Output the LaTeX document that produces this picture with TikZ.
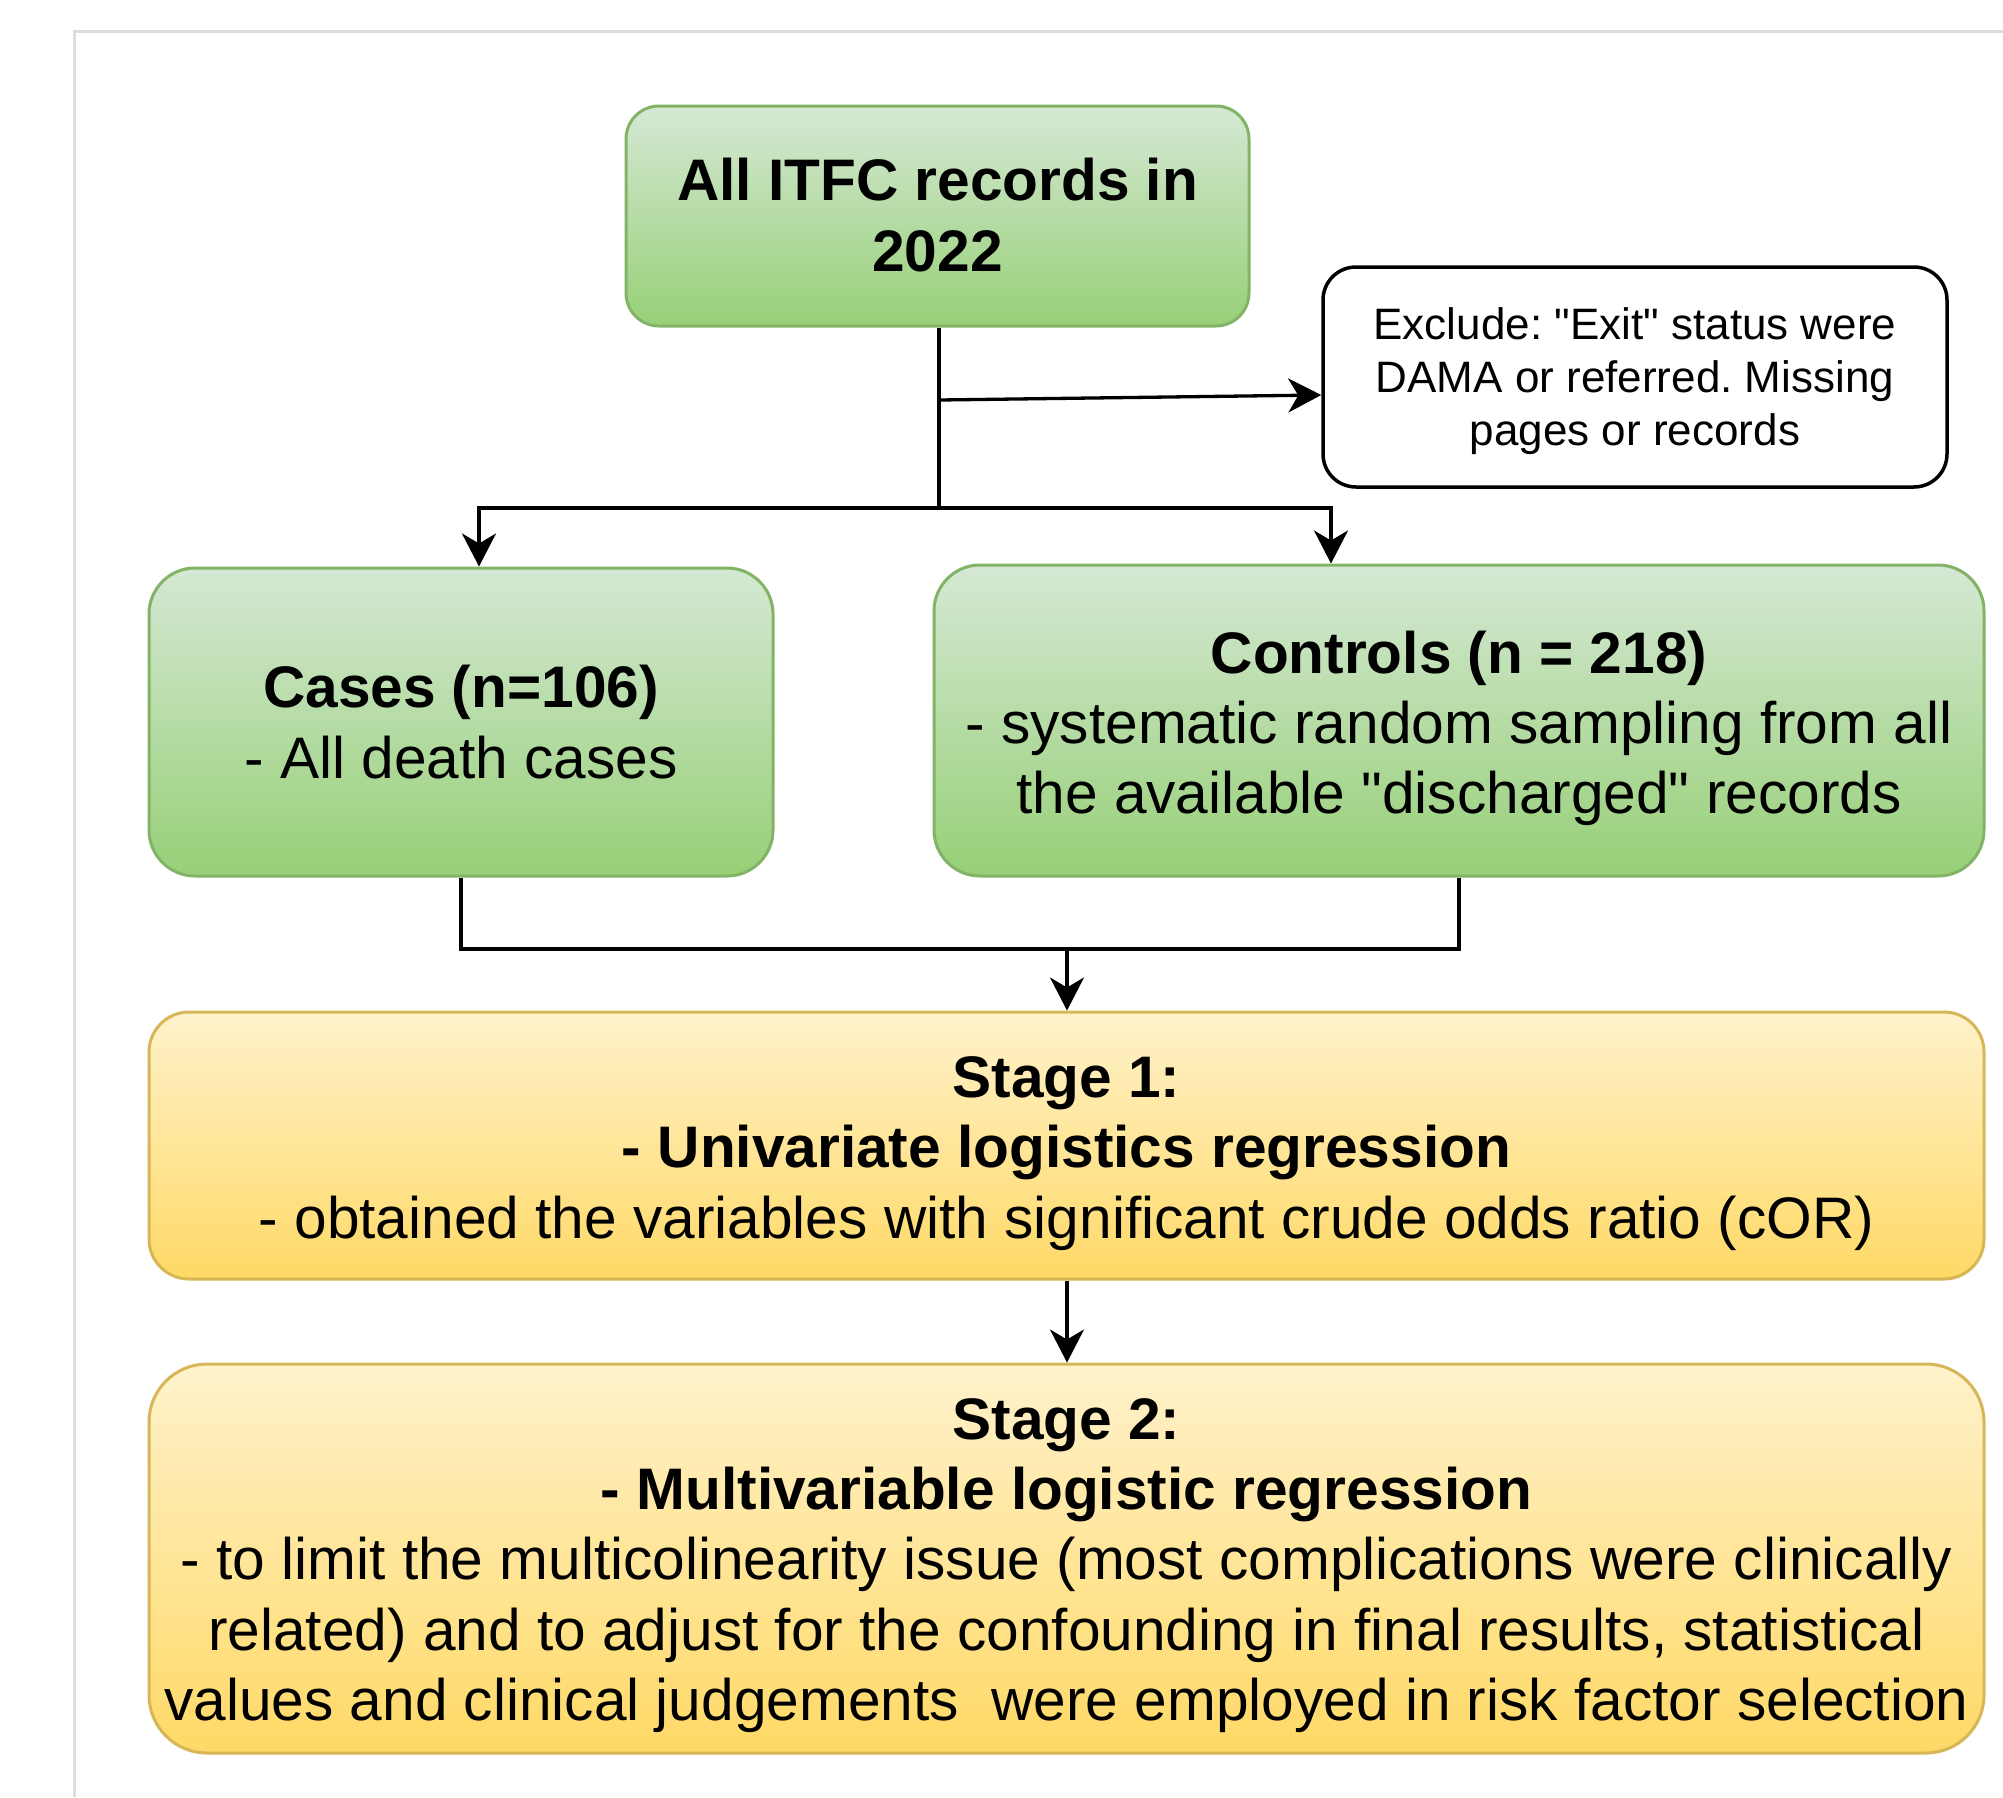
\documentclass[tikz,border=0pt]{standalone}
\usepackage{fontspec}
\setmainfont{Liberation Sans}[Ligatures=TeXOff]
\usetikzlibrary{arrows.meta,calc}
\frenchspacing
\definecolor{gtop}{HTML}{D5E8D4}
\definecolor{gbot}{HTML}{97D077}
\definecolor{gline}{HTML}{82B366}
\definecolor{ytop}{HTML}{FFF2CC}
\definecolor{ybot}{HTML}{FFD966}
\definecolor{yline}{HTML}{D6B656}
\definecolor{framecol}{HTML}{DDDDDD}
\tikzset{
  greenbox/.style={draw=gline, line width=3pt, top color=gtop, bottom color=gbot, inner sep=0pt},
  yellowbox/.style={draw=yline, line width=3pt, top color=ytop, bottom color=ybot, inner sep=0pt},
  whitebox/.style={draw=black, line width=3.5pt, fill=white, inner sep=0pt},
  bigtext/.style={inner sep=0pt, align=center, font=\fontsize{58.6}{70.3}\selectfont},
  smalltext/.style={inner sep=0pt, align=center, font=\fontsize{44}{52.7}\selectfont},
  arr/.style={line width=3.3pt, -{Stealth[length=33pt,width=34pt,inset=10pt]}},
  conn/.style={line width=3.3pt}
}
\begin{document}
\begin{tikzpicture}[x=1pt,y=-1pt]
\useasboundingbox (0,0) rectangle (2003,1797);
\fill[white] (0,0) rectangle (2003,1797);
\draw[framecol, line width=3pt] (74,1797) -- (74,31) -- (2003,31);

\node[greenbox, rounded corners=33pt, minimum width=623pt, minimum height=220pt] (top) at (937.5,216) {};
\node[bigtext] (topT) at ([yshift=1pt]top.center)
  {\textbf{All ITFC records in}\\\textbf{2022}};
\node[whitebox, rounded corners=33pt, minimum width=624pt, minimum height=220pt] (ex) at (1635,377) {};
\node[smalltext] (exT) at ([yshift=-4pt]ex.center)
  {Exclude: "Exit" status were\\DAMA or referred. Missing\\pages or records};
\node[greenbox, rounded corners=46pt, minimum width=624pt, minimum height=308pt] (cases) at (461,722) {};
\node[bigtext] (casesT) at (cases.center)
  {\textbf{Cases (n=106)}\\- All death cases};
\node[greenbox, rounded corners=46pt, minimum width=1050pt, minimum height=311pt] (ctl) at (1459,720.5) {};
\node[bigtext] (ctlT) at ([yshift=-8pt]ctl.center)
  {\textbf{Controls (n = 218)}\\- systematic random sampling from all\\the available "discharged" records};
\node[yellowbox, rounded corners=40pt, minimum width=1835pt, minimum height=267pt] (s1) at (1066.5,1145.5) {};
\node[bigtext] (s1T) at ([yshift=-8pt]s1.center)
  {\textbf{Stage 1:}\\\textbf{- Univariate logistics regression}\\- obtained the variables with significant crude odds ratio (cOR)};
\node[yellowbox, rounded corners=58pt, minimum width=1835pt, minimum height=389pt] (s2) at (1066.5,1558.5) {};
\node[bigtext] (s2T) at ([yshift=-7pt]s2.center)
  {\textbf{Stage 2:}\\\textbf{- Multivariable logistic regression}\\- to limit the multicolinearity issue (most complications were clinically\\related) and to adjust for the confounding in final results, statistical\\values and clinical judgements\ \ were employed in risk factor selection};

\coordinate (b) at (939,508);
\coordinate (j) at (939,400);
\coordinate (m) at (1067,949);
\draw[conn] (top.south -| b) -- (b);
\draw[arr] (b) -| ([xshift=18pt]cases.north);
\draw[arr] (b) -| ([xshift=-128pt]ctl.north);
\draw[arr] (j) -- ([yshift=-18pt]ex.west);
\draw[conn] (cases.south) |- (m);
\draw[conn] (ctl.south) |- (m);
\draw[arr] (m) -- (m |- s1.north);
\draw[arr] (s1.south -| m) -- (s2.north -| m);
\end{tikzpicture}
\end{document}
